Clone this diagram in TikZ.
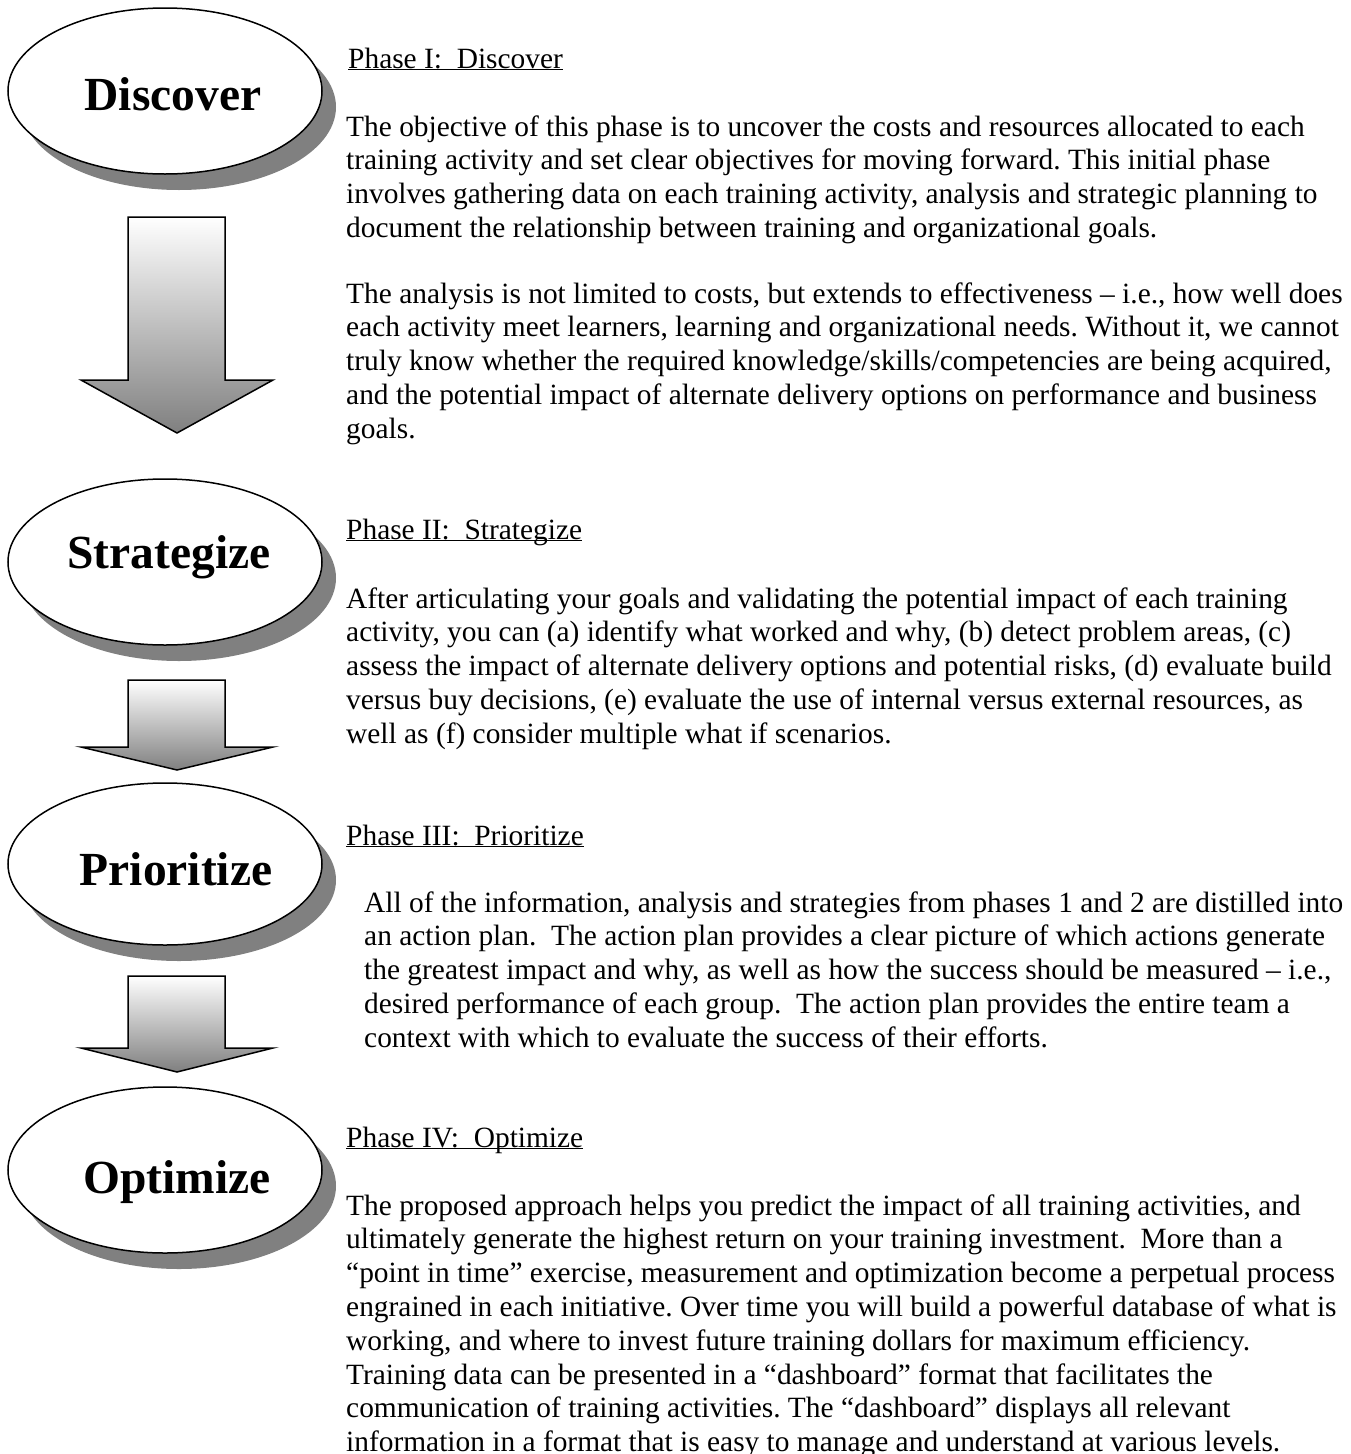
\documentclass[tikz,border=0pt]{standalone}
\usepackage{fontspec}
\setmainfont{Liberation Serif}
\usetikzlibrary{positioning, shapes.geometric, shadows}
\newcommand\bodyfont{\fontsize{29.4}{33.8}\selectfont\frenchspacing}
\newcommand\ovalfont{\fontsize{47.5}{56}\selectfont\bfseries}
\tikzset{
	phase/.style= {
		ellipse,
		draw,
		line width=1.5pt,
		fill=white,
		minimum width=314pt,
		minimum height=166pt,
		inner sep=0pt,
		drop shadow={shadow xshift=14pt, shadow yshift=-16pt, opacity=1, fill=black!50}
	},
	phasename/.style= {
		font=\ovalfont,
		anchor=base,
		inner sep=0pt
	},
	heading/.style= {
		font=\bodyfont,
		anchor=base west,
		inner sep=0pt
	},
	para/.style= {
		font=\bodyfont,
		anchor=north west,
		align=left,
		inner sep=0pt
	},
	blockarrow/.style= {
		draw,
		line width=1.5pt,
		line join=miter,
		top color=white,
		bottom color=black!50
	}
}

\begin{document}
\begin{tikzpicture}[x=1pt, y=-1pt]
	\useasboundingbox (0,0) rectangle (1351,1454);
	
	% the four phases
	\node (disc)[phase] at (165,91) {};
	\node (strat)[phase] at (165,562) {};
	\node (prio)[phase, minimum height=162pt] at (165,864) {};
	\node (optim)[phase] at (165,1170) {};
	
	\node (disctext)[phasename] at (173,110) {Discover};
	\node (strattext)[phasename] at (169,568) {Strategize};
	\node (priotext)[phasename] at (176,885) {Prioritize};
	\node (optimtext)[phasename] at (177,1193) {Optimize};
	
	\foreach \ya/\yb/\yc in {217/380/433, 680/747/770, 976/1048/1072}
	{
		\path[blockarrow] (128,\ya) -- (225,\ya) -- (225,\yb) -- (273,\yb) -- (177,\yc)
			-- (81,\yb) -- (128,\yb) -- cycle;
	}
	
	% phase I
	\node (head1)[heading] at (348,68) {\underline{\smash{Phase I:\ \ Discover}}};
	\node (text1)[para] at (346,112.3) {\strut The objective of this phase is to uncover the costs and resources allocated to each\\
		training activity and set clear objectives for moving forward. This initial phase\\
		involves gathering data on each training activity, analysis and strategic planning to\\
		document the relationship between training and organizational goals.};
	\node (text1b)[para] at (346,279.3) {\strut The analysis is not limited to costs, but extends to effectiveness – i.e., how well does\\
		each activity meet learners, learning and organizational needs. Without it, we cannot\\
		truly know whether the required knowledge/skills/competencies are being acquired,\\
		and the potential impact of alternate delivery options on performance and business\\
		goals.};
	
	% phase II
	\node (head2)[heading] at (346,539) {\underline{\smash{Phase II:\ \ Strategize}}};
	\node (text2)[para] at (346,584.3) {\strut After articulating your goals and validating the potential impact of each training\\
		activity, you can (a) identify what worked and why, (b) detect problem areas, (c)\\
		assess the impact of alternate delivery options and potential risks, (d) evaluate build\\
		versus buy decisions, (e) evaluate the use of internal versus external resources, as\\
		well as (f) consider multiple what if scenarios.};
	
	% phase III
	\node (head3)[heading] at (346,845) {\underline{\smash{Phase III:\ \ Prioritize}}};
	\node (text3)[para] at (364,888.3) {\strut All of the information, analysis and strategies from phases 1 and 2 are distilled into\\
		an action plan.\ \ The action plan provides a clear picture of which actions generate\\
		the greatest impact and why, as well as how the success should be measured – i.e.,\\
		desired performance of each group.\ \ The action plan provides the entire team a\\
		context with which to evaluate the success of their efforts.};
	
	% phase IV
	\node (head4)[heading] at (346,1147) {\underline{\smash{Phase IV:\ \ Optimize}}};
	\node (text4)[para] at (346,1191.3) {\strut The proposed approach helps you predict the impact of all training activities, and\\
		ultimately generate the highest return on your training investment.\ \ More than a\\
		“point in time” exercise, measurement and optimization become a perpetual process\\
		engrained in each initiative. Over time you will build a powerful database of what is\\
		working, and where to invest future training dollars for maximum efficiency.\\
		Training data can be presented in a “dashboard” format that facilitates the\\
		communication of training activities. The “dashboard” displays all relevant\\
		information in a format that is easy to manage and understand at various levels.};
\end{tikzpicture}
\end{document}
